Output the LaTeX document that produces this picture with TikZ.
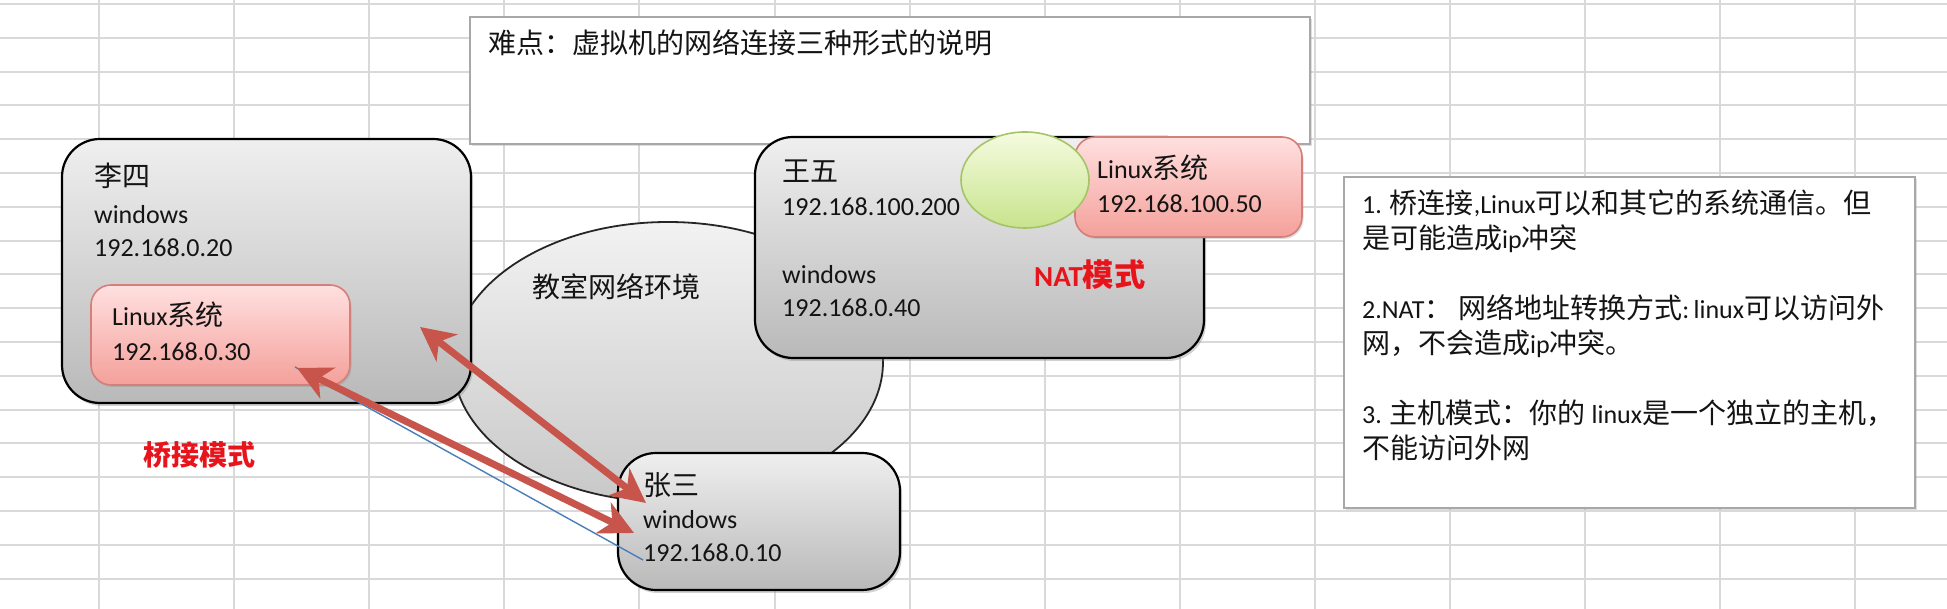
\documentclass[tikz,border=0pt]{standalone}
\usepackage{fontspec}
\setmainfont{Carlito}
\newfontfamily\cjk[Scale=1.077]{Noto Sans CJK SC}
\newcommand\zh[1]{{\cjk #1}}
\usetikzlibrary{shadows,arrows.meta,shapes.geometric}
\definecolor{gridc}{HTML}{D9D9D9}
\definecolor{noteborder}{HTML}{A8A8A8}
\definecolor{greytop}{HTML}{EFEFEF}
\definecolor{greybot}{HTML}{B9B9B9}
\definecolor{nettop}{HTML}{F2F2F2}
\definecolor{netbot}{HTML}{C8C8C8}
\definecolor{pinktop}{HTML}{FFE0E0}
\definecolor{pinkbot}{HTML}{F4A09A}
\definecolor{pinkborder}{HTML}{D47F79}
\definecolor{greentop}{HTML}{F5FBE0}
\definecolor{greenbot}{HTML}{C7E48C}
\definecolor{greenborder}{HTML}{A5C468}
\definecolor{arrowc}{HTML}{C8554B}
\definecolor{redtext}{HTML}{E8141C}
\definecolor{bluec}{HTML}{4A7EBB}
\definecolor{textc}{HTML}{141414}
\begin{document}
\begin{tikzpicture}[x=1pt,y=1pt,
  gridline/.style={gridc, line width=2pt},
  notebox/.style={draw=noteborder, line width=2pt, fill=white, anchor=north west,
    inner sep=0pt, outer sep=0pt,
    drop shadow={shadow xshift=2pt, shadow yshift=-2pt, opacity=0.25}},
  greybox/.style={draw=black, line width=2.2pt, rounded corners=38pt,
    top color=greytop, bottom color=greybot, anchor=north west,
    inner sep=0pt, outer sep=0pt,
    drop shadow={shadow xshift=2pt, shadow yshift=-3pt, opacity=0.35}},
  pinkbox/.style={draw=pinkborder, line width=1.6pt, rounded corners=20pt,
    top color=pinktop, bottom color=pinkbot, anchor=north west,
    inner sep=0pt, outer sep=0pt,
    drop shadow={shadow xshift=1.5pt, shadow yshift=-2pt, opacity=0.25}},
  netell/.style={ellipse, draw=black!85, line width=1.8pt,
    top color=nettop, bottom color=netbot, inner sep=0pt, outer sep=0pt},
  greenell/.style={ellipse, draw=greenborder, line width=1.6pt,
    top color=greentop, bottom color=greenbot, inner sep=0pt, outer sep=0pt},
  txt/.style={anchor=west, inner sep=0pt, text=textc,
    font=\fontsize{26pt}{31pt}\selectfont, text height=18pt, text depth=0pt},
  redlabel/.style={txt, text=redtext, font=\fontsize{26pt}{31pt}\selectfont\bfseries},
  bigarrow/.style={arrowc, line width=7pt,
    {Stealth[length=34pt,width=34pt,inset=10pt]}-{Stealth[length=34pt,width=34pt,inset=10pt]}},
  thinline/.style={bluec, line width=1.4pt}
]
\useasboundingbox (0,0) rectangle (1947,609);
\fill[white] (0,0) rectangle (1947,609);
% spreadsheet grid
\foreach \i in {0,...,13} \draw[gridline] ({99+135.1*\i},0) -- ({99+135.1*\i},609);
\foreach \j in {0,...,17} \draw[gridline] (0,{605-33.8*\j}) -- (1947,{605-33.8*\j});

% white note boxes
\node[notebox, minimum width=840pt, minimum height=127pt] (title) at (470,592) {};
\node[notebox, minimum width=571pt, minimum height=331pt] (notes) at (1344,432) {};

% classroom network ellipse
\node[netell, minimum width=430pt, minimum height=280pt] (net) at (668,247) {};

% Li Si
\node[greybox, minimum width=409pt, minimum height=264pt] (lisi) at (62,470) {};
\node[pinkbox, minimum width=259pt, minimum height=100pt] (lisilinux) at (91,324) {};

% Wang Wu
\node[greybox, minimum width=449pt, minimum height=221pt] (wangwu) at (755,472) {};
\node[pinkbox, minimum width=227pt, minimum height=100pt] (wwlinux) at (1075,472) {};
\node[greenell, minimum width=128pt, minimum height=96pt] (nat) at (1025,429) {};

% Zhang San
\node[greybox, minimum width=282pt, minimum height=137pt] (zhangsan) at (618,156) {};

% texts
\node[txt] (titletext) at (488,564) {\zh{难点：虚拟机的网络连接三种形式的说明}};

\node[txt] (lisiname) at (94,431) {\zh{李四}};
\node[txt] (lisiwin) at (94,394) {windows};
\node[txt] (lisiip) at (94,361) {192.168.0.20};
\node[txt] (lisilx) at (112,292) {Linux\zh{系统}};
\node[txt] (lisilxip) at (112,257) {192.168.0.30};

\node[txt] (nettext) at (532,320) {\zh{教室网络环境}};

\node[txt] (wwname) at (782,436) {\zh{王五}};
\node[txt] (wwip1) at (782,402) {192.168.100.200};
\node[txt] (wwwin) at (782,334) {windows};
\node[txt] (wwip2) at (782,301) {192.168.0.40};
\node[txt] (wwlx) at (1097,439) {Linux\zh{系统}};
\node[txt] (wwlxip) at (1097,405) {192.168.100.50};
\node[redlabel, font=\fontsize{29pt}{34pt}\selectfont\bfseries] (natlabel) at (1034,331) {NAT\zh{模式}};

\node[redlabel] (bridgelabel) at (143,152) {\zh{桥接模式}};

\node[txt] (zsname) at (643,122) {\zh{张三}};
\node[txt] (zswin) at (643,89) {windows};
\node[txt] (zsip) at (643,56) {192.168.0.10};

\node[txt] (n1a) at (1362,404) {1. \zh{桥连接},Linux\zh{可以和其它的系统通信。但}};
\node[txt] (n1b) at (1362,369) {\zh{是可能造成}ip\zh{冲突}};
\node[txt] (n2a) at (1362,299) {2.NAT\zh{：} \zh{网络地址转换方式}:\,linux\zh{可以访问外}};
\node[txt] (n2b) at (1362,264) {\zh{网，不会造成}ip\zh{冲突。}};
\node[txt] (n3a) at (1362,194) {3. \zh{主机模式：你的} linux\zh{是一个独立的主机，}};
\node[txt] (n3b) at (1362,159) {\zh{不能访问外网}};

% connectors
\coordinate (a1s) at (420,282);
\coordinate (a1e) at (646,106);
\coordinate (a2s) at (297,241);
\coordinate (a2e) at (634,76);
\coordinate (bls) at (295,242);
\coordinate (ble) at (643,49);
\draw[thinline] (bls) -- (ble);
\draw[bigarrow] (a1s) -- (a1e);
\draw[bigarrow] (a2s) -- (a2e);
\end{tikzpicture}
\end{document}
